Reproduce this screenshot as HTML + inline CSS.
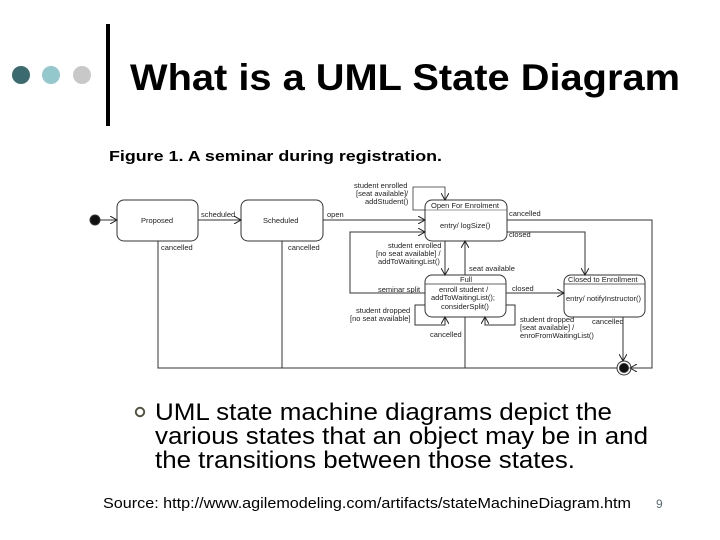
<!DOCTYPE html>
<html><head><meta charset="utf-8"><style>
html,body{margin:0;padding:0;background:#fff;}
svg{display:block;font-family:"Liberation Sans",Arial,sans-serif;}
</style></head><body>
<svg width="720" height="540" viewBox="0 0 720 540" xmlns="http://www.w3.org/2000/svg">
<defs>
<marker id="a" markerWidth="8" markerHeight="8" refX="7" refY="4" orient="auto" markerUnits="userSpaceOnUse">
<path d="M0,0 L7,4 L0,8" fill="none" stroke="#222" stroke-width="1"/>
</marker>
</defs>
<rect width="720" height="540" fill="#fff"/>
<circle cx="21" cy="75" r="9" fill="#3b6b6e"/>
<circle cx="51" cy="75" r="9" fill="#93c8cc"/>
<circle cx="82" cy="75" r="9" fill="#c8c8c8"/>
<rect x="106" y="24" width="4" height="102" fill="#000"/>
<text x="130" y="90" font-size="37" font-weight="bold" textLength="550" lengthAdjust="spacingAndGlyphs">What is a UML State Diagram</text>
<text x="109" y="161" font-size="15" font-weight="bold" textLength="333" lengthAdjust="spacingAndGlyphs">Figure 1. A seminar during registration.</text>

<g fill="none" stroke="#333" stroke-width="1">
<circle cx="95" cy="220" r="5" fill="#111"/>
<line x1="100" y1="220" x2="117" y2="220" marker-end="url(#a)"/>
<rect x="117" y="200" width="81" height="41" rx="7"/>
<rect x="241" y="200" width="82" height="41" rx="7"/>
<line x1="198" y1="220" x2="241" y2="220" marker-end="url(#a)"/>
<line x1="323" y1="220" x2="425" y2="220" marker-end="url(#a)"/>
<rect x="425" y="200" width="82" height="41" rx="7"/>
<line x1="425" y1="210" x2="507" y2="210" stroke-width="0.6"/>
<rect x="425" y="275" width="81" height="42" rx="7"/>
<line x1="425" y1="284" x2="506" y2="284" stroke-width="0.8"/>
<rect x="564" y="275" width="81" height="42" rx="7"/>
<line x1="564" y1="284" x2="645" y2="284" stroke-width="0.8"/>
<polyline points="158,241 158,368 617,368"/>
<line x1="282" y1="241" x2="282" y2="368"/>
<polyline points="425,210 413,210 413,187 445,187 445,200" marker-end="url(#a)" stroke-width="0.8"/>
<line x1="445" y1="241" x2="445" y2="275" marker-end="url(#a)"/>
<line x1="465" y1="275" x2="465" y2="241" marker-end="url(#a)"/>
<polyline points="425,293 350,293 350,232 425,232" marker-end="url(#a)"/>
<polyline points="507,232 585,232 585,275" marker-end="url(#a)"/>
<polyline points="507,220 652,220 652,368 630,368" marker-end="url(#a)"/>
<line x1="506" y1="293" x2="564" y2="293" marker-end="url(#a)"/>
<line x1="623" y1="317" x2="623" y2="361" marker-end="url(#a)"/>
<line x1="465" y1="317" x2="465" y2="368"/>
<polyline points="425,305 415,305 415,325 445,325 445,317" marker-end="url(#a)"/>
<polyline points="506,305 515,305 515,325 485,325 485,317" marker-end="url(#a)"/>
<circle cx="624" cy="368" r="7"/>
<circle cx="624" cy="368" r="4.5" fill="#111"/>
</g>
<g font-size="7.5" fill="#222">
<text x="141" y="223">Proposed</text>
<text x="263" y="223">Scheduled</text>
<text x="201" y="217">scheduled</text>
<text x="161" y="250">cancelled</text>
<text x="288" y="250">cancelled</text>
<text x="327" y="217">open</text>
<text x="354" y="188">student enrolled</text>
<text x="356" y="196">[seat available]/</text>
<text x="365" y="204">addStudent()</text>
<text x="431" y="208">Open For Enrolment</text>
<text x="440" y="228">entry/ logSize()</text>
<text x="509" y="216">cancelled</text>
<text x="509" y="237">closed</text>
<text x="388" y="248">student enrolled</text>
<text x="376" y="256">[no seat available] /</text>
<text x="378" y="264">addToWaitingList()</text>
<text x="469" y="271">seat available</text>
<text x="460" y="282">Full</text>
<text x="439" y="292">enroll student /</text>
<text x="431" y="300">addToWaitingList();</text>
<text x="441" y="309">considerSplit()</text>
<text x="378" y="292">seminar split</text>
<text x="512" y="291">closed</text>
<text x="568" y="282">Closed to Enrollment</text>
<text x="566" y="301">entry/ notifyInstructor()</text>
<text x="356" y="313">student dropped</text>
<text x="350" y="321">[no seat available]</text>
<text x="430" y="337">cancelled</text>
<text x="520" y="322">student dropped</text>
<text x="520" y="330">[seat available] /</text>
<text x="520" y="338">enroFromWaitingList()</text>
<text x="592" y="324">cancelled</text>
</g>

<circle cx="140" cy="412" r="4.2" fill="none" stroke="#555540" stroke-width="2"/>
<g font-size="24" fill="#000">
<text x="155" y="420" textLength="457" lengthAdjust="spacingAndGlyphs">UML state machine diagrams depict the</text>
<text x="155" y="444" textLength="493" lengthAdjust="spacingAndGlyphs">various states that an object may be in and</text>
<text x="155" y="468" textLength="420" lengthAdjust="spacingAndGlyphs">the transitions between those states.</text>
</g>
<text x="103" y="508" font-size="15" textLength="528" lengthAdjust="spacingAndGlyphs">Source:  http://www.agilemodeling.com/artifacts/stateMachineDiagram.htm</text>
<text x="656" y="508" font-size="12" fill="#5a6e70">9</text>
</svg>
</body></html>
